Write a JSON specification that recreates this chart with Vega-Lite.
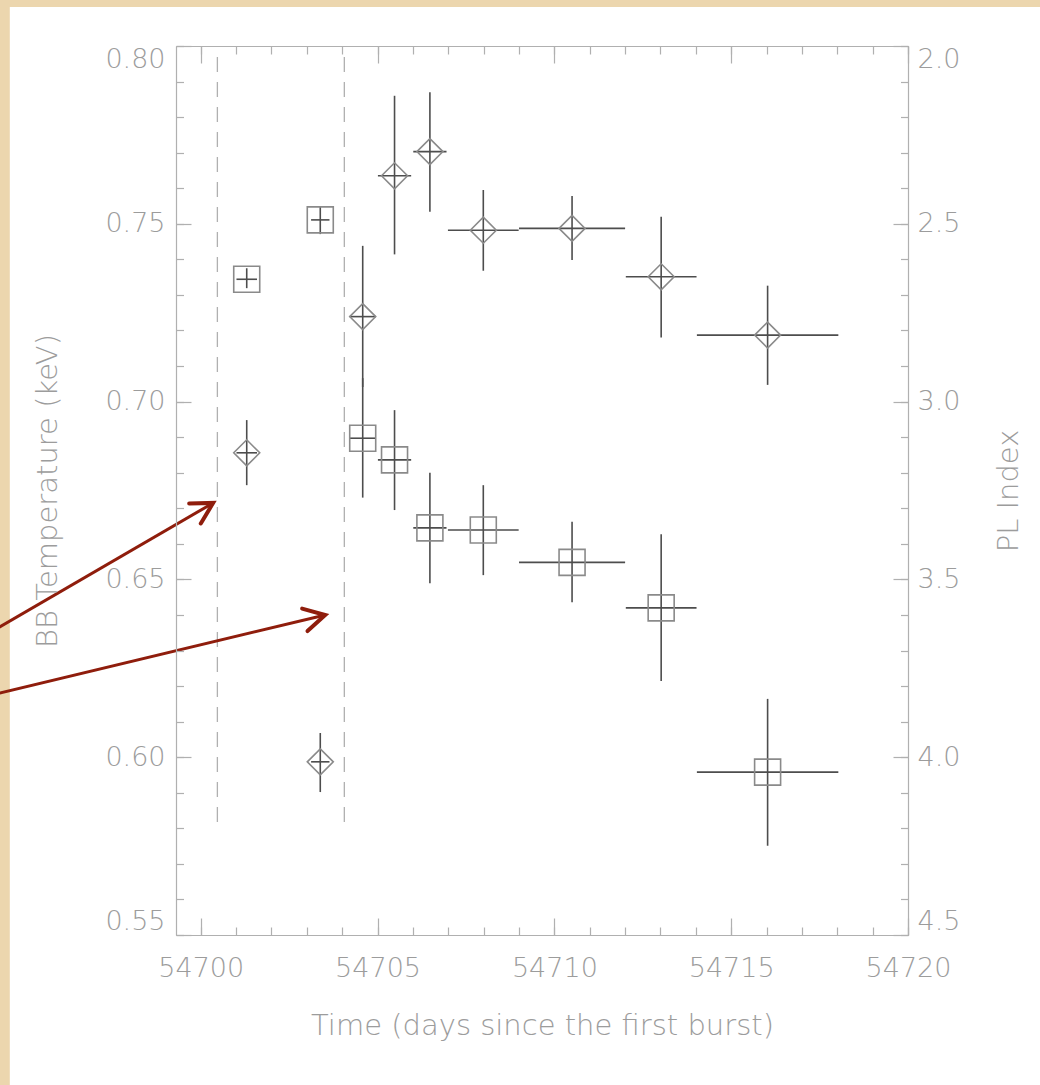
{
  "$schema": "https://vega.github.io/schema/vega-lite/v6.json",
  "width": 732,
  "height": 889,
  "autosize": {"type": "none"},
  "padding": {"left": 176, "top": 46, "right": 132, "bottom": 150},
  "background": "#ecd6ae",
  "config": {
    "view": {"stroke": null},
    "axis": {
      "grid": false,
      "labelFont": "DejaVu Sans",
      "labelFontSize": 27,
      "labelFontWeight": 200,
      "labelColor": "#9c9c9c",
      "titleFont": "DejaVu Sans",
      "titleFontSize": 29,
      "titleFontWeight": 200,
      "titleColor": "#9c9c9c",
      "domainColor": "#b0b0b0",
      "domainWidth": 1.2,
      "tickColor": "#b0b0b0",
      "tickWidth": 1.2
    }
  },
  "datasets": {
    "bb": [
      {"day": 54701.30, "dayLo": 54701.01, "dayHi": 54701.59, "T": 0.6856, "TLo": 0.6765, "THi": 0.6948},
      {"day": 54703.38, "dayLo": 54703.12, "dayHi": 54703.64, "T": 0.5987, "TLo": 0.5902, "THi": 0.6068},
      {"day": 54704.58, "dayLo": 54704.21, "dayHi": 54704.95, "T": 0.7239, "TLo": 0.7041, "THi": 0.7438},
      {"day": 54705.48, "dayLo": 54705.01, "dayHi": 54705.95, "T": 0.7635, "TLo": 0.7414, "THi": 0.7860},
      {"day": 54706.48, "dayLo": 54706.01, "dayHi": 54706.95, "T": 0.7703, "TLo": 0.7534, "THi": 0.7870},
      {"day": 54707.99, "dayLo": 54706.99, "dayHi": 54708.99, "T": 0.7482, "TLo": 0.7368, "THi": 0.7595},
      {"day": 54710.50, "dayLo": 54709.00, "dayHi": 54712.00, "T": 0.7487, "TLo": 0.7398, "THi": 0.7578},
      {"day": 54713.02, "dayLo": 54712.02, "dayHi": 54714.02, "T": 0.7351, "TLo": 0.7180, "THi": 0.7520},
      {"day": 54716.03, "dayLo": 54714.03, "dayHi": 54718.03, "T": 0.7187, "TLo": 0.7047, "THi": 0.7326}
    ],
    "pl": [
      {"day": 54701.30, "dayLo": 54701.01, "dayHi": 54701.59, "PL": 2.656, "PLmin": 2.625, "PLmax": 2.681},
      {"day": 54703.38, "dayLo": 54703.12, "dayHi": 54703.64, "PL": 2.489, "PLmin": 2.452, "PLmax": 2.529},
      {"day": 54704.58, "dayLo": 54704.21, "dayHi": 54704.95, "PL": 3.103, "PLmin": 2.934, "PLmax": 3.270},
      {"day": 54705.48, "dayLo": 54705.01, "dayHi": 54705.95, "PL": 3.164, "PLmin": 3.024, "PLmax": 3.305},
      {"day": 54706.48, "dayLo": 54706.01, "dayHi": 54706.95, "PL": 3.355, "PLmin": 3.200, "PLmax": 3.511},
      {"day": 54707.99, "dayLo": 54706.99, "dayHi": 54708.99, "PL": 3.361, "PLmin": 3.235, "PLmax": 3.488},
      {"day": 54710.50, "dayLo": 54709.00, "dayHi": 54712.00, "PL": 3.452, "PLmin": 3.338, "PLmax": 3.564},
      {"day": 54713.02, "dayLo": 54712.02, "dayHi": 54714.02, "PL": 3.580, "PLmin": 3.373, "PLmax": 3.786},
      {"day": 54716.03, "dayLo": 54714.03, "dayHi": 54718.03, "PL": 4.042, "PLmin": 3.836, "PLmax": 4.249}
    ],
    "panel": [
      {"day": 54694.6, "day2": 54730, "T": 0.811, "T2": 0.40}
    ],
    "markers": [
      {"day": 54700.47, "T": 0.80, "T2": 0.58},
      {"day": 54704.06, "T": 0.80, "T2": 0.58}
    ],
    "arrows": [
      {"arrow": "a", "end": "tail", "day": 54694.00, "T": 0.6348},
      {"arrow": "a", "end": "head", "day": 54700.35, "T": 0.6715},
      {"arrow": "b", "end": "tail", "day": 54694.00, "T": 0.6173},
      {"arrow": "b", "end": "head", "day": 54703.52, "T": 0.6400}
    ]
  },
  "layer": [
    {
      "layer": [
        {
          "data": {"name": "panel"},
          "mark": {"type": "rect", "fill": "white", "clip": false},
          "encoding": {
            "x": {"field": "day", "type": "quantitative", "scale": {"domain": [54699.3, 54720], "nice": false, "zero": false}},
            "x2": {"field": "day2"},
            "y": {"field": "T", "type": "quantitative", "scale": {"domain": [0.55, 0.80], "nice": false, "zero": false}},
            "y2": {"field": "T2"}
          }
        },
        {
          "data": {"name": "markers"},
          "mark": {"type": "rule", "color": "#b0b0b0", "strokeWidth": 1.3, "strokeDash": [15, 10], "strokeDashOffset": 14},
          "encoding": {
            "x": {"field": "day", "type": "quantitative", "scale": {"domain": [54699.3, 54720], "nice": false, "zero": false}},
            "y": {"field": "T", "type": "quantitative", "scale": {"domain": [0.55, 0.80], "nice": false, "zero": false}},
            "y2": {"field": "T2"}
          }
        },
        {
          "data": {"name": "arrows"},
          "mark": {"type": "line", "color": "#8f1d0c", "strokeWidth": 3, "clip": false},
          "encoding": {
            "x": {"field": "day", "type": "quantitative", "scale": {"domain": [54699.3, 54720], "nice": false, "zero": false}},
            "y": {"field": "T", "type": "quantitative", "scale": {"domain": [0.55, 0.80], "nice": false, "zero": false}},
            "detail": {"field": "arrow"}
          }
        },
        {
          "data": {"name": "arrows"},
          "transform": [{"filter": "datum.arrow === 'a' && datum.end === 'head'"}],
          "mark": {"type": "point", "shape": "M-1,-0.55L0,0L-1,0.55", "size": 1764, "angle": -30.2, "filled": false, "color": "#8f1d0c", "strokeWidth": 4, "strokeCap": "round", "opacity": 1},
          "encoding": {
            "x": {"field": "day", "type": "quantitative", "scale": {"domain": [54699.3, 54720], "nice": false, "zero": false}},
            "y": {"field": "T", "type": "quantitative", "scale": {"domain": [0.55, 0.80], "nice": false, "zero": false}}
          }
        },
        {
          "data": {"name": "arrows"},
          "transform": [{"filter": "datum.arrow === 'b' && datum.end === 'head'"}],
          "mark": {"type": "point", "shape": "M-1,-0.55L0,0L-1,0.55", "size": 1764, "angle": -13.5, "filled": false, "color": "#8f1d0c", "strokeWidth": 4, "strokeCap": "round", "opacity": 1},
          "encoding": {
            "x": {"field": "day", "type": "quantitative", "scale": {"domain": [54699.3, 54720], "nice": false, "zero": false}},
            "y": {"field": "T", "type": "quantitative", "scale": {"domain": [0.55, 0.80], "nice": false, "zero": false}}
          }
        },
        {
          "data": {"name": "bb"},
          "mark": {"type": "rule", "color": "#4d4d4d", "strokeWidth": 1.6},
          "encoding": {
            "x": {"field": "dayLo", "type": "quantitative", "scale": {"domain": [54699.3, 54720], "nice": false, "zero": false},
              "axis": {"orient": "bottom", "zindex": 1, "values": [54700, 54705, 54710, 54715, 54720], "format": "d", "tickSize": -17, "labelPadding": 37, "labelFlush": false, "domain": true, "title": "Time (days since the first burst)", "titlePadding": 30}},
            "x2": {"field": "dayHi"},
            "y": {"field": "T", "type": "quantitative", "scale": {"domain": [0.55, 0.80], "nice": false, "zero": false},
              "axis": {"orient": "left", "zindex": 1, "values": [0.55, 0.60, 0.65, 0.70, 0.75, 0.80], "format": ".2f", "tickSize": -15, "labelPadding": 26, "labelFlush": true, "domain": true, "title": "BB Temperature (keV)", "titlePadding": 42}}
          }
        },
        {
          "data": {"name": "bb"},
          "mark": {"type": "rule", "color": "#4d4d4d", "strokeWidth": 1.6},
          "encoding": {
            "x": {"field": "day", "type": "quantitative", "scale": {"domain": [54699.3, 54720], "nice": false, "zero": false}},
            "y": {"field": "TLo", "type": "quantitative", "scale": {"domain": [0.55, 0.80], "nice": false, "zero": false}},
            "y2": {"field": "THi"}
          }
        }
      ]
    },
    {
      "data": {"name": "bb"},
      "mark": {"type": "point", "shape": "diamond", "filled": false, "size": 676, "color": "#8a8a8a", "strokeWidth": 1.6, "opacity": 1},
      "encoding": {
        "x": {"field": "day", "type": "quantitative", "scale": {"domain": [54699.3, 54720], "nice": false, "zero": false},
          "axis": {"orient": "bottom", "zindex": 1, "values": [54700, 54701, 54702, 54703, 54704, 54705, 54706, 54707, 54708, 54709, 54710, 54711, 54712, 54713, 54714, 54715, 54716, 54717, 54718, 54719, 54720], "tickSize": -8, "labels": false, "domain": false, "title": null}},
        "y": {"field": "T", "type": "quantitative", "scale": {"domain": [0.55, 0.80], "nice": false, "zero": false},
          "axis": {"orient": "left", "zindex": 1, "values": [0.55, 0.56, 0.57, 0.58, 0.59, 0.60, 0.61, 0.62, 0.63, 0.64, 0.65, 0.66, 0.67, 0.68, 0.69, 0.70, 0.71, 0.72, 0.73, 0.74, 0.75, 0.76, 0.77, 0.78, 0.79, 0.80], "tickSize": -7.5, "labels": false, "domain": false, "title": null}}
      }
    },
    {
      "data": {"name": "pl"},
      "layer": [
        {
          "mark": {"type": "rule", "color": "#4d4d4d", "strokeWidth": 1.6},
          "encoding": {
            "x": {"field": "dayLo", "type": "quantitative", "scale": {"domain": [54699.3, 54720], "nice": false, "zero": false},
              "axis": {"orient": "top", "zindex": 1, "values": [54700, 54705, 54710, 54715, 54720], "tickSize": -17, "labels": false, "domain": true, "title": null}},
            "x2": {"field": "dayHi"},
            "y": {"field": "PL", "type": "quantitative", "scale": {"domain": [2.0, 4.5], "reverse": true, "nice": false, "zero": false},
              "axis": {"orient": "right", "zindex": 1, "values": [2.0, 2.5, 3.0, 3.5, 4.0, 4.5], "format": ".1f", "tickSize": -15, "labelPadding": 24, "labelFlush": true, "domain": true, "title": "PL Index", "titleAngle": 270, "titleBaseline": "top", "titlePadding": 35}}
          }
        },
        {
          "mark": {"type": "rule", "color": "#4d4d4d", "strokeWidth": 1.6},
          "encoding": {
            "x": {"field": "day", "type": "quantitative", "scale": {"domain": [54699.3, 54720], "nice": false, "zero": false}},
            "y": {"field": "PLmin", "type": "quantitative", "scale": {"domain": [2.0, 4.5], "reverse": true, "nice": false, "zero": false}},
            "y2": {"field": "PLmax"}
          }
        }
      ]
    },
    {
      "data": {"name": "pl"},
      "mark": {"type": "point", "shape": "square", "filled": false, "size": 676, "color": "#8a8a8a", "strokeWidth": 1.6, "opacity": 1},
      "encoding": {
        "x": {"field": "day", "type": "quantitative", "scale": {"domain": [54699.3, 54720], "nice": false, "zero": false},
          "axis": {"orient": "top", "zindex": 1, "values": [54700, 54701, 54702, 54703, 54704, 54705, 54706, 54707, 54708, 54709, 54710, 54711, 54712, 54713, 54714, 54715, 54716, 54717, 54718, 54719, 54720], "tickSize": -8, "labels": false, "domain": false, "title": null}},
        "y": {"field": "PL", "type": "quantitative", "scale": {"domain": [2.0, 4.5], "reverse": true, "nice": false, "zero": false},
          "axis": {"orient": "right", "zindex": 1, "values": [2.0, 2.1, 2.2, 2.3, 2.4, 2.5, 2.6, 2.7, 2.8, 2.9, 3.0, 3.1, 3.2, 3.3, 3.4, 3.5, 3.6, 3.7, 3.8, 3.9, 4.0, 4.1, 4.2, 4.3, 4.4, 4.5], "tickSize": -7.5, "labels": false, "domain": false, "title": null}}
      }
    }
  ],
  "resolve": {
    "scale": {"x": "independent", "y": "independent"},
    "axis": {"x": "independent", "y": "independent"}
  }
}
